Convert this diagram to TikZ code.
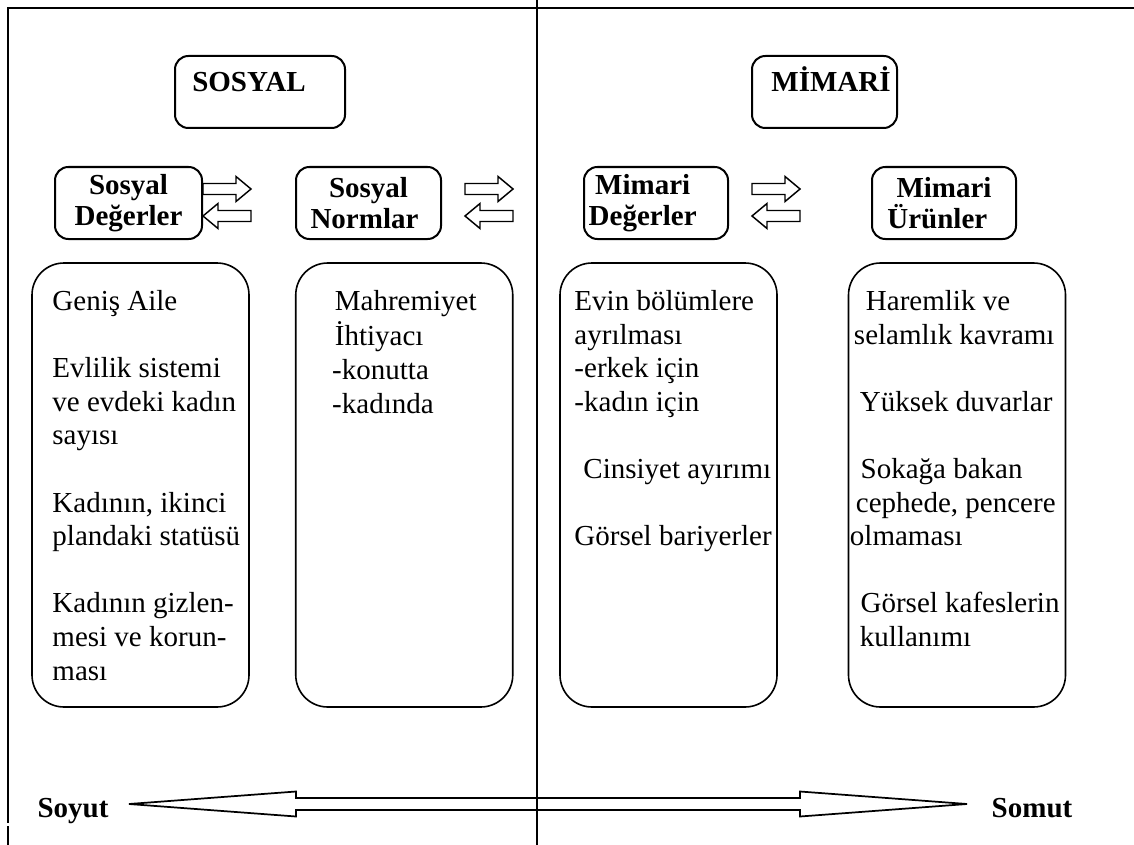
\documentclass[tikz,border=0pt]{standalone}
\usepackage{fontspec}
\setmainfont{Liberation Serif}
\usetikzlibrary{calc}

\begin{document}
\begin{tikzpicture}[x=0.75pt, y=-0.75pt, font=\fontsize{21.75pt}{25.2pt}\selectfont,
  headbox/.style={draw, line width=1.5pt, rounded corners=10pt, minimum height=54pt, inner sep=0pt},
  headtext/.style={font=\fontsize{21.75pt}{23.25pt}\selectfont\bfseries, inner sep=0pt},
  listbox/.style={draw, line width=1.2pt, rounded corners=24pt, minimum width=162.75pt, minimum height=333pt, inner sep=0pt},
  listtext/.style={align=left, anchor=north west, inner sep=0pt},
  harrow/.pic={\draw[line width=1.1pt] (0,-5.5) -- (33,-5.5) -- (33,-12.5) -- (48,0) -- (33,12.5) -- (33,5.5) -- (0,5.5) -- cycle;}]
\useasboundingbox (0,0) rectangle (1134,845);
\draw[line width=2pt] (8,823) -- (8,8) -- (1134,8);
\draw[line width=0.8pt] (8,826) -- (8,845);
\draw[line width=1pt] (537,0) -- (537,845);

\node[headbox, minimum width=127.5pt] (sosyal) at (260,92) {};
\node[headtext, anchor=base] (sosyallbl) at ($(sosyal.center)+(-11,0)$) {SOSYAL};
\node[headbox, minimum width=108.75pt] (mimari) at (824.5,92) {};
\node[headtext, anchor=base] (mimarilbl) at ($(mimari.center)+(6.5,0)$) {MİMARİ};

\node[headbox, headtext, align=center, minimum width=110.25pt] (sdeg) at (128.5,203) {Sosyal\\Değerler};
\node[headbox, headtext, align=center, minimum width=108.75pt] (snorm) at (368.5,203) {Sosyal\\Normlar\hspace*{6pt}};
\node[headbox, headtext, align=center, minimum width=108pt] (mdeg) at (656,203) {Mimari\hspace*{20pt}\\Değerler\hspace*{20pt}};
\node[headbox, headtext, align=center, minimum width=108pt] (murun) at (944,203) {Mimari\\Ürünler\hspace*{10pt}};

\pic at ($(sdeg.east)+(0,-14)$) {harrow};
\pic[rotate=180] at ($(sdeg.east)+(48,13)$) {harrow};
\pic at ($(snorm.east)+(23,-14)$) {harrow};
\pic[rotate=180] at ($(snorm.east)+(71,13)$) {harrow};
\pic at ($(mdeg.east)+(23,-14)$) {harrow};
\pic[rotate=180] at ($(mdeg.east)+(71,13)$) {harrow};

\node[listbox] (aile) at (140.5,485) {};
\node[listbox] (mahrem) at (404.25,485) {};
\node[listbox] (bolum) at (668.5,485) {};
\node[listbox] (harem) at (957,485) {};

\node[listtext] (ailetxt) at ($(aile.north west)+(21,24.5)$) {\strut Geniş Aile\\ \\Evlilik sistemi\\ve evdeki kadın\\sayısı\\ \\Kadının, ikinci\\plandaki statüsü\\ \\Kadının gizlen-\\mesi ve korun-\\ması};
\node[listtext] (mahremtxt) at ($(mahrem.north west)+(37,24.5)$) {\strut\hspace*{2pt}Mahremiyet\\\hspace*{2pt}İhtiyacı\\-konutta\\-kadında};
\node[listtext] (bolumtxt) at ($(bolum.north west)+(15,24.5)$) {\strut Evin bölümlere\\ayrılması\\-erkek için\\-kadın için\\ \\\hspace*{6.75pt}Cinsiyet ayırımı\\ \\Görsel bariyerler};
\node[listtext] (haremtxt) at ($(harem.north west)+(2,24.5)$) {\strut\hspace*{12pt}Haremlik ve\\\hspace*{3pt}selamlık kavramı\\ \\\hspace*{7.5pt}Yüksek duvarlar\\ \\\hspace*{8pt}Sokağa bakan\\\hspace*{4.5pt}cephede, pencere\\olmaması\\ \\\hspace*{8pt}Görsel kafeslerin\\\hspace*{7.5pt}kullanımı};

\node[headtext, anchor=base] (soyut) at (73,817) {Soyut};
\node[headtext, anchor=base] (somut) at (1032,817) {Somut};
\coordinate (lt) at (129,804);
\coordinate (rt) at (967,804);
\draw[line width=1.3pt] (lt) -- ++(167,-12.5) -- ++(0,6.5) -- ($(rt)+(-167,-6)$) -- ++(0,-6.5) -- (rt) -- ++(-167,12.5) -- ++(0,-6.5) -- ($(lt)+(167,6)$) -- ++(0,6.5) -- cycle;
\end{tikzpicture}
\end{document}
